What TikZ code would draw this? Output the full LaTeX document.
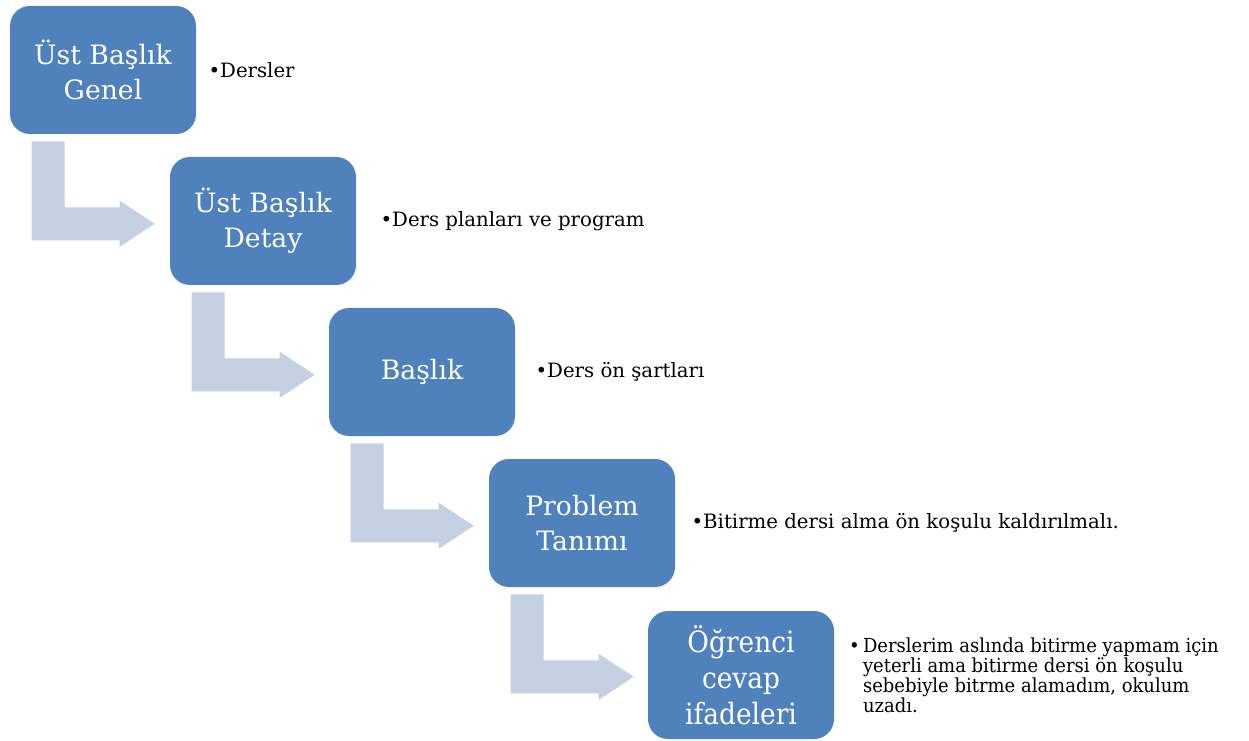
\documentclass[tikz,border=0pt]{standalone}
\usepackage{fontspec}
\setmainfont{DejaVu Serif}
\newfontfamily\narrowfont[FakeStretch=0.9]{DejaVu Serif}
\newfontfamily\notesfont[FakeStretch=0.93]{DejaVu Serif}
\usetikzlibrary{positioning}
\definecolor{boxblue}{HTML}{4F81BD}
\definecolor{arrowgray}{HTML}{C5D0E2}
\tikzset{
  level box/.style={
    rounded corners=15pt,
    fill=boxblue,
    text=white,
    minimum width=139.5pt,
    minimum height=96pt,
    align=center,
    font=\fontsize{20}{26}\selectfont,
  },
  item text/.style={
    inner sep=0pt,
    align=left,
    font=\fontsize{14.8}{18}\selectfont,
  },
  bend arrow/.pic={
    \fill[arrowgray] (0,0) -- (33,0) -- (33,66) -- (88,66) -- (88,59.5)
      -- (123,82.5) -- (88,105.5) -- (88,99) -- (0,99) -- cycle;
  },
}

\begin{document}
\begin{tikzpicture}[x=0.75pt, y=-0.75pt]
        \useasboundingbox (0,0) rectangle (1249,741);

        \node[level box] (b1) at (103, 70) {Üst Başlık\\Genel};
        \node[level box] (b2) at (263,221) {Üst Başlık\\Detay};
        \node[level box] (b3) at (422,372) {Başlık};
        \node[level box] (b4) at (582,523) {Problem\\Tanımı};
        \node[level box, font=\narrowfont\fontsize{22}{27}\selectfont] (b5) at (741,675) {Öğrenci\\cevap\\ifadeleri};

        \pic at ([shift={(22,7)}]b1.south west) {bend arrow};
        \pic at ([shift={(22,7)}]b2.south west) {bend arrow};
        \pic at ([shift={(22,7)}]b3.south west) {bend arrow};
        \pic at ([shift={(22,7)}]b4.south west) {bend arrow};

        \node[item text, right=9pt of b1]  (d1) {•Dersler};
        \node[item text, right=18pt of b2] (d2) {•Ders planları ve program};
        \node[item text, right=15pt of b3] (d3) {•Ders ön şartları};
        \node[item text, right=12pt of b4] (d4) {•Bitirme dersi alma ön koşulu kaldırılmalı.};
        \node[item text, right=11pt of b5, font=\notesfont\fontsize{14.5}{15}\selectfont] (d5)
          {•\,Derslerim aslında bitirme yapmam için\\
           \hphantom{•\,}yeterli ama bitirme dersi ön koşulu\\
           \hphantom{•\,}sebebiyle bitrme alamadım, okulum\\
           \hphantom{•\,}uzadı.};
      \end{tikzpicture}
\end{document}
